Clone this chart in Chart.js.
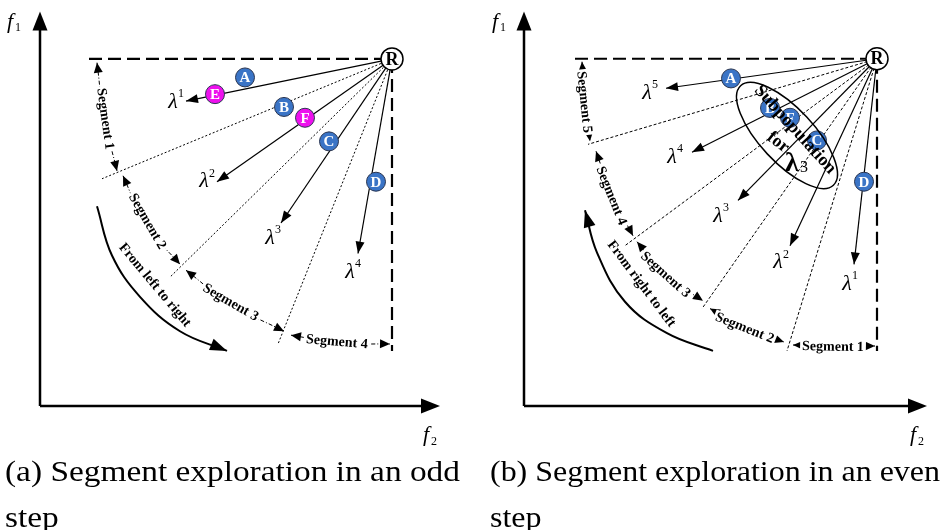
<!DOCTYPE html>
<html>
<head>
<meta charset="utf-8">
<script src="https://cdn.jsdelivr.net/npm/chart.js@4.4.1/dist/chart.umd.min.js"></script>
<style>
  body { margin: 0; background: #fff; width: 944px; height: 530px; overflow: hidden; position: relative; }
  .panel { position: absolute; top: 0; }
  .cap { position: absolute; font-family: "Liberation Serif", "DejaVu Serif", serif; font-size: 29px; line-height: 46px; color: #000; white-space: nowrap; transform-origin: 0 0; }
</style>
</head>
<body>
<div class="panel" style="left:0"><canvas id="chartA" width="470" height="450"></canvas></div>
<div class="panel" style="left:470px"><canvas id="chartB" width="474" height="450"></canvas></div>
<div class="cap" id="capA" style="left:5px; top:448px"><span>(a) Segment exploration in an odd</span><br>step</div>
<div class="cap" id="capB" style="left:490px; top:448px"><span>(b) Segment exploration in an even</span><br>step</div>
<script>
// all positions are in objective space (f2, f1), both axes run 0..10

// ---- panel (a): odd step ----
const refA = [8.8, 8.82];
const frameA = [[1.225, 8.82], [8.8, 8.82], [8.8, 1.4]];
const solidEndsA = [[3.65, 7.75], [4.425, 5.7], [6.025, 4.65], [7.95, 3.875]];
const dottedEndsA = [[1.55, 5.775], [3.25, 3.275], [5.95, 1.575]];
const lambdaNumA = ['1', '2', '3', '4'];
const lambdaPosA = [[3.325, 7.725], [4.1, 5.7], [5.75, 4.275], [7.75, 3.4]];
const dotNamesA = ['A', 'E', 'B', 'F', 'C', 'D'];
const dotPosA = [[5.125, 8.35], [4.375, 7.925], [6.1, 7.6], [6.625, 7.325], [7.225, 6.725], [8.4, 5.7]];
const magentaA = ['E', 'F'];
const segNamesA = ['Segment 1', 'Segment 2', 'Segment 3', 'Segment 4'];
const segPathsA = [
  [[1.425, 8.725], [1.6, 7.35], [1.925, 5.975]],
  [[2.075, 5.85], [2.65, 4.6], [3.5, 3.6]],
  [[3.65, 3.45], [4.75, 2.6], [6.1, 1.9]],
  [[6.275, 1.8], [7.5, 1.6], [8.75, 1.575]]
];
const segLabelPosA = [[1.65, 7.3], [2.7, 4.7], [4.775, 2.65], [7.425, 1.65]];
const segAngleA = [82, 60, 30, 5];
const sweepA = [[1.425, 5.075], [1.8, 3.825], [2.5, 2.775], [3.5, 1.9], [4.675, 1.4]];
const sweepTextA = 'From left to right';

// ---- panel (b): even step ----
const refB = [8.825, 8.825];
const frameB = [[1.275, 8.825], [8.825, 8.825], [8.825, 1.4]];
const solidEndsB = [[3.55, 8.075], [4.2, 6.45], [5.35, 5.225], [6.65, 4.075], [8.25, 3.6]];
const dottedEndsB = [[1.6, 6.65], [2.525, 4.075], [4.45, 2.475], [6.575, 1.4]];
const lambdaNumB = ['5', '4', '3', '2', '1'];
const lambdaPosB = [[3.075, 7.95], [3.7, 6.325], [4.85, 4.825], [6.35, 3.65], [8.075, 3.1]];
const dotNamesB = ['A', 'B', 'F', 'C', 'D'];
const dotPosB = [[5.175, 8.325], [6.15, 7.575], [6.65, 7.325], [7.325, 6.75], [8.5, 5.7]];
const magentaB = [];
const segNamesB = ['Segment 5', 'Segment 4', 'Segment 3', 'Segment 2', 'Segment 1'];
const segPathsB = [
  [[1.45, 8.75], [1.525, 7.725], [1.65, 6.725]],
  [[1.8, 6.475], [2.2, 5.35], [2.725, 4.325]],
  [[2.825, 4.175], [3.525, 3.325], [4.475, 2.675]],
  [[4.65, 2.475], [5.525, 1.975], [6.5, 1.625]],
  [[6.725, 1.55], [7.75, 1.525], [8.775, 1.525]]
];
const segLabelPosB = [[1.525, 7.725], [2.2, 5.35], [3.55, 3.35], [5.525, 2.0], [7.725, 1.525]];
const segAngleB = [84, 68, 42, 22, 1];
const sweepB = [[1.525, 4.975], [1.825, 3.9], [2.525, 2.65], [3.575, 1.85], [4.725, 1.4]];
const sweepTextB = 'From right to left';
const subpopCenterB = [6.575, 6.875];
const subpopRadiiB = [1.7, 0.675];

const serif = '"Liberation Serif", "DejaVu Serif", serif';

function line(pts, extra) {
  return Object.assign({
    data: pts.map(q => ({ x: q[0], y: q[1] })),
    showLine: true, pointRadius: 0, borderColor: '#000', borderWidth: 1,
    fill: false, clip: false, tension: 0
  }, extra);
}

function arrowHead(ctx, tip, from, len, half) {
  const a = Math.atan2(tip[1] - from[1], tip[0] - from[0]);
  ctx.save();
  ctx.translate(tip[0], tip[1]);
  ctx.rotate(a);
  ctx.beginPath();
  ctx.moveTo(0, 0);
  ctx.lineTo(-len, -half);
  ctx.lineTo(-len, half);
  ctx.closePath();
  ctx.fill();
  ctx.restore();
}

const figureMarks = {
  id: 'figureMarks',
  afterDatasetsDraw(chart, args, p) {
    const ctx = chart.ctx;
    const X = v => chart.scales.x.getPixelForValue(v);
    const Y = v => chart.scales.y.getPixelForValue(v);
    const P = q => [X(q[0]), Y(q[1])];
    ctx.save();
    ctx.fillStyle = '#000';

    // axis arrows
    arrowHead(ctx, P([0, p.f1Top]), P([0, 0]), 19, 7.5);
    arrowHead(ctx, P([p.f2End, 0]), P([0, 0]), 19, 7.5);

    // ray arrows
    p.solidEnds.forEach(e => arrowHead(ctx, P(e), P(p.ref), 12, 4.5));

    // segment double arrows
    p.segPaths.forEach(s => {
      arrowHead(ctx, P(s[0]), P(s[1]), 10, 4.5);
      arrowHead(ctx, P(s[s.length - 1]), P(s[s.length - 2]), 10, 4.5);
    });

    // sweep arrow
    const sw = p.sweep;
    if (p.sweepAtEnd) arrowHead(ctx, P(sw[sw.length - 1]), P(sw[sw.length - 2]), 17, 6);
    else arrowHead(ctx, P(sw[0]), P(sw[1]), 17, 6);

    // segment labels, on a white patch that cuts the dashed line
    ctx.font = 'bold 14px ' + serif;
    ctx.textAlign = 'center';
    ctx.textBaseline = 'middle';
    p.segNames.forEach((name, i) => {
      const c = P(p.segLabelPos[i]);
      ctx.save();
      ctx.translate(c[0], c[1]);
      ctx.rotate(p.segAngle[i] * Math.PI / 180);
      const w = ctx.measureText(name).width;
      ctx.fillStyle = '#fff';
      ctx.fillRect(-w / 2 - 2, -6, w + 4, 12);
      ctx.fillStyle = '#000';
      ctx.fillText(name, 0, 1);
      ctx.restore();
    });

    // sweep label
    const sc = P(p.sweepTextPos);
    ctx.save();
    ctx.translate(sc[0], sc[1]);
    ctx.rotate(p.sweepAngle * Math.PI / 180);
    ctx.fillText(p.sweepText, 0, 0);
    ctx.restore();

    // lambda labels
    p.lambdaNum.forEach((n, i) => {
      const c = P(p.lambdaPos[i]);
      ctx.font = 'italic 22px ' + serif;
      ctx.textAlign = 'center';
      ctx.fillText('\u03bb', c[0], c[1]);
      ctx.font = '12px ' + serif;
      ctx.textAlign = 'left';
      ctx.fillText(n, c[0] + 5, c[1] - 8);
    });

    // dot letters
    ctx.font = 'bold 15px ' + serif;
    ctx.textAlign = 'center';
    ctx.fillStyle = '#fff';
    p.dotNames.forEach((n, i) => {
      const c = P(p.dots[i]);
      ctx.fillText(n, c[0], c[1] + 1);
    });
    ctx.fillStyle = '#000';
    ctx.font = 'bold 18px ' + serif;
    const r = P(p.ref);
    ctx.fillText('R', r[0], r[1] + 1);

    // axis titles
    ctx.textAlign = 'left';
    ctx.font = 'italic 22px ' + serif;
    const f1 = P(p.f1Label), f2 = P(p.f2Label);
    ctx.fillText('f', f1[0] - 5, f1[1]);
    ctx.fillText('f', f2[0] - 5, f2[1]);
    ctx.font = '12px ' + serif;
    ctx.fillText('1', f1[0] + 3, f1[1] + 6);
    ctx.fillText('2', f2[0] + 3, f2[1] + 6);

    // subpopulation ellipse
    if (p.subpopCenter) {
      const e = P(p.subpopCenter);
      const pxu = X(1) - X(0);
      ctx.lineWidth = 1.5;
      ctx.strokeStyle = '#000';
      ctx.beginPath();
      ctx.ellipse(e[0], e[1], p.subpopRadii[0] * pxu, p.subpopRadii[1] * pxu, 47 * Math.PI / 180, 0, Math.PI * 2);
      ctx.stroke();
      ctx.textAlign = 'center';
      const t1 = P([6.775, 7.025]);
      ctx.save();
      ctx.translate(t1[0], t1[1]);
      ctx.rotate(48 * Math.PI / 180);
      ctx.font = 'bold 18px ' + serif;
      ctx.fillText('Subpopulation', 0, 0);
      ctx.restore();
      const t2 = P([6.35, 6.7]);
      ctx.save();
      ctx.translate(t2[0], t2[1]);
      ctx.rotate(38 * Math.PI / 180);
      ctx.font = 'bold 18px ' + serif;
      ctx.fillText('for', 0, 0);
      ctx.restore();
      const t3 = P([6.7, 6.15]);
      ctx.font = 'bold 28px ' + serif;
      ctx.fillText('\u03bb', t3[0], t3[1]);
      ctx.font = '16px ' + serif;
      ctx.textAlign = 'left';
      ctx.fillText('3', t3[0] + 8, t3[1] + 4);
    }
    ctx.restore();
  }
};

function makePanel(canvasId, pad, p) {
  const datasets = [];
  datasets.push({
    data: p.dots.map(d => ({ x: d[0], y: d[1] })),
    pointRadius: 9.5,
    pointBackgroundColor: p.dotNames.map(n => p.magenta.includes(n) ? '#ee10ee' : '#3a74c6'),
    pointBorderColor: '#2a3550', pointBorderWidth: 1, showLine: false, clip: false
  });
  datasets.push({
    data: [{ x: p.ref[0], y: p.ref[1] }],
    pointRadius: 11, pointBackgroundColor: '#fff', pointBorderColor: '#000', pointBorderWidth: 1.5, clip: false
  });
  datasets.push(line([[0, 0], [0, p.f1Top - 0.3]], { borderWidth: 2.5 }));
  datasets.push(line([[0, 0], [p.f2End - 0.3, 0]], { borderWidth: 2.5 }));
  datasets.push(line(p.frame, { borderWidth: 2.2, borderDash: [13, 6] }));
  p.solidEnds.forEach(e => datasets.push(line([p.ref, e], { borderWidth: 1.2 })));
  p.dottedEnds.forEach(e => datasets.push(line([p.ref, e], { borderWidth: 1, borderDash: p.dotDash })));
  p.segPaths.forEach(s => datasets.push(line(s, { borderWidth: 1, borderDash: [4, 2, 1, 2], tension: 0.4 })));
  datasets.push(line(p.sweep, { borderWidth: 2, tension: 0.4 }));

  new Chart(document.getElementById(canvasId), {
    type: 'scatter',
    data: { datasets },
    options: {
      responsive: false,
      animation: false,
      events: [],
      layout: { padding: pad },
      scales: {
        x: { type: 'linear', min: 0, max: 10, display: false },
        y: { type: 'linear', min: 0, max: 10, display: false }
      },
      plugins: { legend: { display: false }, tooltip: { enabled: false }, figureMarks: p }
    },
    plugins: [figureMarks]
  });
}

makePanel('chartA', { left: 40, right: 30, top: 6, bottom: 44 }, {
  ref: refA, frame: frameA, solidEnds: solidEndsA, dottedEnds: dottedEndsA, dotDash: [2, 2],
  lambdaNum: lambdaNumA, lambdaPos: lambdaPosA, dotNames: dotNamesA, dots: dotPosA, magenta: magentaA,
  segNames: segNamesA, segPaths: segPathsA, segLabelPos: segLabelPosA, segAngle: segAngleA,
  sweep: sweepA, sweepAtEnd: true, sweepText: sweepTextA, sweepTextPos: [2.87, 3.07], sweepAngle: 50,
  f1Top: 10.025, f2End: 10, f1Label: [-0.7, 9.75], f2Label: [9.7, -0.75]
});

makePanel('chartB', { left: 54, right: 20, top: 6, bottom: 44 }, {
  ref: refB, frame: frameB, solidEnds: solidEndsB, dottedEnds: dottedEndsB, dotDash: [3, 2],
  lambdaNum: lambdaNumB, lambdaPos: lambdaPosB, dotNames: dotNamesB, dots: dotPosB, magenta: magentaB,
  segNames: segNamesB, segPaths: segPathsB, segLabelPos: segLabelPosB, segAngle: segAngleB,
  sweep: sweepB, sweepAtEnd: false, sweepText: sweepTextB, sweepTextPos: [2.93, 3.1], sweepAngle: 53,
  f1Top: 10.025, f2End: 10.075, f1Label: [-0.675, 9.75], f2Label: [9.775, -0.75],
  subpopCenter: subpopCenterB, subpopRadii: subpopRadiiB
});

// stretch the captions to the width of the original typesetting
[['capA', 455], ['capB', 450]].forEach(([id, target]) => {
  const el = document.getElementById(id);
  const w = el.querySelector('span').getBoundingClientRect().width;
  el.style.transform = 'scaleX(' + (target / w) + ')';
});
</script>
</body>
</html>
